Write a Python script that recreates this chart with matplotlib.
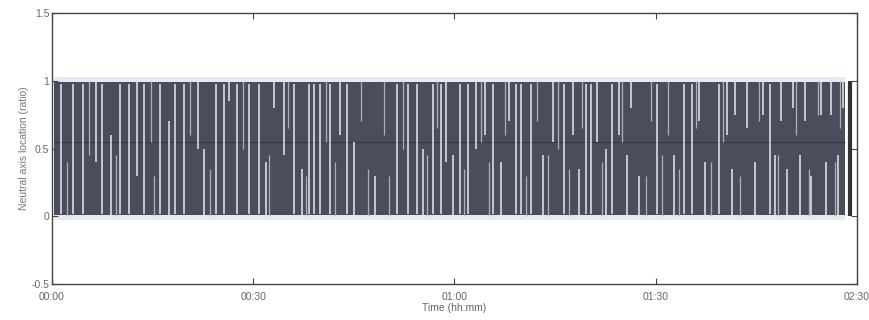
import matplotlib
matplotlib.use("Agg")
import matplotlib.pyplot as plt

# ---- data (time in minutes, values are ratio) ----
band_start, band_end = 0.3, 118.2          # extent of the dense oscillation band
band_low, band_high = 0.0, 1.0
mid_level = 0.55                             # faint running mean line
end_burst_time = 119.0                       # dark bar at the end of record

# bright white streaks: time, low, high
streak_t = [1.29, 3.16, 4.55, 6.53, 7.52, 8.86, 10.19, 11.47, 12.66, 13.65, 16.13, 17.40, 18.40,
            19.73, 21.71, 22.70, 24.44, 25.67, 26.41, 27.64, 29.38, 30.86, 31.85, 33.09, 34.57,
            36.05, 37.28, 38.28,
            39.02, 40.01, 41.50, 42.98, 43.96, 44.96, 48.18, 51.38, 53.12, 54.35, 55.34, 56.82, 58.06,
            58.80, 59.79, 60.79, 62.02, 63.25, 64.50, 65.73, 66.96, 68.20, 69.18, 69.93, 71.41,
            73.15, 74.63, 76.36, 77.60, 78.59,
            79.57, 80.31, 81.31, 82.54, 83.53, 84.53, 85.76, 86.25, 87.49, 90.21, 92.68, 94.17,
            95.40, 96.39, 97.37,
            99.36, 100.59, 101.34, 101.83, 103.56, 104.79, 106.04, 107.02, 107.76, 108.75, 109.50,
            110.49, 111.47, 112.20, 113.20, 114.69, 115.43, 116.17, 117.16, 117.90]
streak_low = [0.02, 0.02, 0.02, 0.40, 0.02, 0.00, 0.02, 0.02, 0.30, 0.02, 0.02, 0.00, 0.02,
              0.02, 0.50, 0.00, 0.02, 0.02, 0.85, 0.02, 0.02, 0.02, 0.00, 0.80, 0.45,
              0.02, 0.00, 0.02,
              0.02, 0.02, 0.02, 0.60, 0.02, 0.00, 0.00, 0.02, 0.02, 0.02, 0.00, 0.02, 0.02,
              0.40, 0.00, 0.02, 0.02, 0.50, 0.60, 0.02, 0.00, 0.70, 0.02, 0.02, 0.02,
              0.00, 0.55, 0.02, 0.60, 0.00,
              0.02, 0.02, 0.55, 0.00, 0.02, 0.60, 0.00, 0.80, 0.00, 0.02, 0.00, 0.02,
              0.02, 0.70, 0.00,
              0.02, 0.60, 0.00, 0.75, 0.65, 0.00, 0.75, 0.02, 0.00, 0.70, 0.00,
              0.80, 0.00, 0.70, 0.00, 0.75, 0.00, 0.75, 0.00, 0.80]
streak_high = [0.98, 0.98, 0.98, 1.00, 0.98, 0.60, 0.98, 0.98, 1.00, 0.98, 0.98, 0.70, 0.98,
               0.98, 1.00, 0.50, 0.98, 0.98, 1.00, 0.98, 0.98, 0.98, 0.40, 1.00, 1.00,
               0.98, 0.35, 0.98,
               0.98, 0.98, 0.98, 1.00, 0.98, 0.55, 0.30, 0.98, 0.98, 0.98, 0.50, 0.98, 0.98,
               1.00, 0.45, 0.98, 0.98, 1.00, 1.00, 0.98, 0.40, 1.00, 0.98, 0.98, 0.98,
               0.45, 1.00, 0.98, 1.00, 0.35,
               0.98, 0.98, 1.00, 0.50, 0.98, 1.00, 0.45, 1.00, 0.30, 0.98, 0.45, 0.98,
               0.98, 1.00, 0.40,
               0.98, 1.00, 0.35, 1.00, 1.00, 0.40, 1.00, 0.98, 0.45, 1.00, 0.35,
               1.00, 0.45, 1.00, 0.30, 1.00, 0.40, 1.00, 0.45, 1.00]

# fainter, partial streaks
faint_t = [2.2, 5.5, 9.5, 14.8, 15.2, 20.6, 23.5, 28.5, 32.4, 35.2, 37.9, 40.8, 42.2, 46.0,
           47.1, 49.5, 50.2, 52.3, 55.9, 57.4, 61.4, 63.9, 65.1, 67.6, 70.6, 72.3, 74.0, 75.5,
           77.0, 79.0, 82.0, 84.9, 88.5, 89.3, 91.0, 91.8, 93.4, 96.0, 98.3, 100.1, 102.6,
           105.4, 108.2, 110.9, 112.8, 114.2, 116.7, 117.5]
faint_low = [0.00, 0.45, 0.00, 0.55, 0.00, 0.60, 0.00, 0.50, 0.00, 0.65, 0.00, 0.55, 0.00, 0.70,
             0.00, 0.60, 0.00, 0.50, 0.00, 0.65, 0.00, 0.55, 0.00, 0.60, 0.00, 0.70, 0.00, 0.50,
             0.00, 0.65, 0.00, 0.55, 0.00, 0.70, 0.00, 0.60, 0.00, 0.65, 0.00, 0.55, 0.00,
             0.70, 0.00, 0.60, 0.00, 0.75, 0.00, 0.65]
faint_high = [0.40, 1.00, 0.45, 1.00, 0.30, 1.00, 0.35, 1.00, 0.45, 1.00, 0.30, 1.00, 0.40, 1.00,
              0.35, 1.00, 0.30, 1.00, 0.45, 1.00, 0.35, 1.00, 0.40, 1.00, 0.30, 1.00, 0.45, 1.00,
              0.35, 1.00, 0.40, 1.00, 0.30, 1.00, 0.45, 1.00, 0.35, 1.00, 0.40, 1.00, 0.30,
              1.00, 0.45, 1.00, 0.35, 1.00, 0.40, 1.00]

x_ticks = [0, 30, 60, 90, 120]
x_ticklabels = ["00:00", "00:30", "01:00", "01:30", "02:30"]
y_ticks = [-0.5, 0, 0.5, 1, 1.5]
y_ticklabels = ["-0.5", "0", "0.5", "1", "1.5"]

# ---- figure ----
plt.rcParams['font.family'] = ['Liberation Sans', 'DejaVu Sans']
fig = plt.figure(figsize=(8.7, 3.2), dpi=100)
ax = fig.add_axes([0.0598, 0.1125, 0.9252, 0.8465])

band_col = "#4a4e5b"
haze_col = "#e6ebf1"
streak_col = "#e4e9f0"
faint_col = "#a9b0bc"

# light haze just outside the band
ax.fill_between([band_start, band_end], band_high - 0.01, band_high + 0.025,
                color=haze_col, lw=0, zorder=1)
ax.fill_between([band_start, band_end], band_low - 0.025, band_low + 0.01,
                color=haze_col, lw=0, zorder=1)
# dark band
ax.fill_between([band_start, band_end], band_low + 0.01, band_high - 0.01,
                color=band_col, lw=0, zorder=2)
# mid line
ax.hlines(mid_level, band_start, band_end, color="#2c2f38", lw=0.8, zorder=3, alpha=0.7)
# streaks
ax.vlines(faint_t, faint_low, faint_high, color=faint_col, lw=0.9, zorder=3.5)
ax.vlines(streak_t, streak_low, streak_high, color=streak_col, lw=1.1, zorder=4)
# dark end bar
ax.vlines([end_burst_time], band_low, band_high, color="#303238", lw=3.0, zorder=5)

ax.set_xlim(x_ticks[0], x_ticks[-1])
ax.set_ylim(y_ticks[0], y_ticks[-1])
ax.set_xticks(x_ticks)
ax.set_xticklabels(x_ticklabels)
ax.set_yticks(y_ticks)
ax.set_yticklabels(y_ticklabels)

ax.tick_params(direction="in", top=True, right=True, length=4, width=0.8,
               colors="#444444", labelsize=7.5, labelcolor="#666666")
ax.tick_params(axis="x", pad=5.5)
ax.tick_params(axis="y", pad=2)
for s in ax.spines.values():
    s.set_color("#444444")
    s.set_linewidth(1.0)

ax.set_xlabel("Time (hh:mm)", fontsize=7.5, color="#666666", labelpad=1)
ax.set_ylabel("Neutral axis location (ratio)", fontsize=7.5, color="#777777", labelpad=2)

fig.savefig("out.png", dpi=100)
